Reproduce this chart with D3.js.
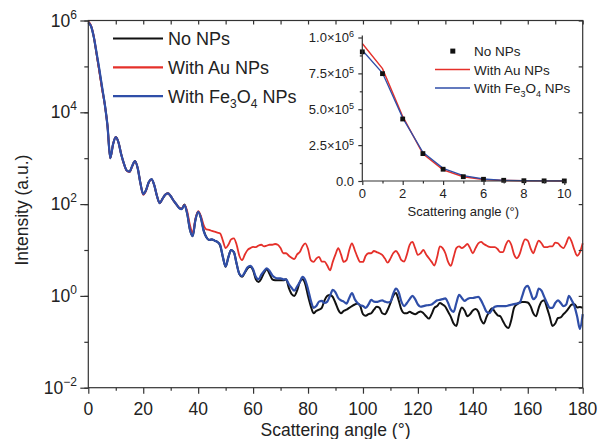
<!DOCTYPE html>
<html lang="en">
<head>
<meta charset="UTF-8">
<title>Scattering intensity</title>
<script src="https://d3js.org/d3.v7.min.js"></script>
<style>
    body { margin: 0; background: #fff; }
    svg { font-family: "Liberation Sans", Arial, sans-serif; }
    .axis path, .axis line { stroke: #333; stroke-width: 1.2; }
</style>
</head>
<body>
<div id="chart"></div>
<script>
// angles of the main curves, one reading per degree
const angles = d3.range(0, 181, 1);

const noNPs = [
    9.0e5, 7.5e5, 4.35e5, 1.9e5, 8.2e4, 3.4e4, 1.5e4, 5.0e3, 1.0e3, 2.0e3,
    2.9e3, 2.2e3, 1.2e3, 750, 540, 510, 680, 870, 600, 280,
    165, 200, 300, 350, 260, 150, 105, 130, 160, 172,
    150, 120, 100, 83, 78, 98, 62, 28, 20, 45,
    68, 50, 27, 19, 16.6, 17, 16, 15, 12.5, 7,
    4.3, 7, 10, 9, 5, 3.0, 2.6, 3.2, 4.0, 4.3,
    3.6, 2.3, 2.0, 2.4, 3.2, 3.8, 3.0, 2.3, 2.2, 2.2,
    2.2, 2.2, 2.3, 1.5, 1.1, 1.0, 1.3, 2.0, 2.3, 1.8,
    1.0, 0.6, 0.42, 0.47, 0.5, 0.55, 0.8, 1.0, 1.05, 0.95,
    0.7, 0.5, 0.42, 0.47, 0.5, 0.55, 0.6, 0.65, 0.68, 0.6,
    0.4, 0.37, 0.4, 0.42, 0.5, 0.58, 0.55, 0.42, 0.4, 0.5,
    0.7, 1.0, 1.15, 0.8, 0.5, 0.42, 0.42, 0.45, 0.42, 0.4,
    0.43, 0.46, 0.42, 0.36, 0.32, 0.4, 0.55, 0.6, 0.7, 0.65,
    0.58, 0.45, 0.35, 0.25, 0.22, 0.4, 0.56, 0.48, 0.36, 0.4,
    0.48, 0.52, 0.45, 0.3, 0.25, 0.35, 0.45, 0.54, 0.45, 0.38,
    0.36, 0.28, 0.22, 0.2, 0.3, 0.55, 0.65, 0.72, 0.74, 0.74,
    0.72, 0.6, 0.42, 0.36, 0.55, 0.75, 0.8, 0.55, 0.35, 0.22,
    0.25, 0.33, 0.34, 0.4, 0.46, 0.55, 0.65, 0.66, 0.56, 0.57,
    0.55
];

const auNPs = [
    9.6e5, 7.8e5, 4.5e5, 1.9e5, 7.8e4, 3.2e4, 1.45e4, 5.0e3, 1.0e3, 2.0e3,
    2.9e3, 2.2e3, 1.2e3, 740, 530, 500, 670, 860, 600, 280,
    160, 195, 295, 345, 260, 150, 105, 130, 160, 170,
    150, 120, 100, 84, 80, 96, 70, 35, 24, 48,
    70, 55, 35, 28, 27.5, 26, 25, 24, 23, 16,
    11, 13, 17, 18, 13, 7.5, 6.0, 8, 10, 11,
    11.7, 11.5, 12.5, 13, 12, 12.5, 13, 13, 13.5, 13,
    11, 8.5, 8.5, 7.5, 6.8, 6.3, 8, 9, 12, 14,
    10.5, 6, 5.5, 6.5, 7.1, 5.6, 5.6, 4.6, 3.6, 5.5,
    8, 11, 8, 5.5, 6, 10, 14, 10, 7, 5.5,
    5.5, 7.5, 8.5, 8.5, 9.5, 9, 8.5, 7.8, 6.5, 5.3,
    6.5, 8.5, 9.5, 8, 6, 5.6, 8, 13, 15, 11,
    7.8, 8.5, 10, 8, 6.6, 5.5, 4.6, 7, 12, 11,
    8.5, 5.5, 4.5, 7, 11, 12, 11, 12, 13.5, 11,
    8.5, 11, 14, 15, 13.5, 12.5, 11.7, 11.5, 11.5, 10.5,
    9, 9, 13, 16, 13, 8, 6.6, 8, 12.5, 17,
    16, 11, 8.5, 12, 16, 14, 11.5, 11.5, 12, 12,
    14.5, 14, 12, 11, 14, 19, 15, 10, 7.5, 9,
    14
];

const feNPs = [
    9.1e5, 7.5e5, 4.4e5, 2.0e5, 8.8e4, 3.6e4, 1.5e4, 5.0e3, 1.0e3, 2.0e3,
    2.9e3, 2.2e3, 1.2e3, 750, 540, 510, 680, 870, 600, 280,
    165, 200, 300, 350, 260, 150, 105, 130, 160, 172,
    150, 120, 100, 83, 78, 95, 62, 28, 20, 45,
    68, 50, 26, 19, 16.6, 17, 16, 15, 13, 7,
    4.4, 7, 10, 9, 5, 3.0, 2.7, 3.3, 4.2, 4.5,
    3.8, 2.6, 2.3, 2.9, 3.5, 4.0, 3.5, 2.8, 2.5, 2.4,
    2.4, 2.3, 2.3, 1.8, 1.5, 1.3, 1.6, 2.0, 2.6, 2.2,
    1.4, 0.8, 0.55, 0.6, 0.75, 0.78, 0.7, 0.75, 1.0, 1.35,
    1.2, 0.9, 0.8, 0.75, 0.68, 0.9, 1.15, 0.85, 0.7, 0.63,
    0.6, 0.55, 0.65, 0.82, 0.75, 0.74, 0.77, 0.8, 0.75, 0.72,
    0.75, 1.1, 1.45, 1.2, 0.75, 0.6, 0.7, 0.85, 1.0, 0.85,
    0.65, 0.58, 0.6, 0.62, 0.63, 0.65, 0.72, 0.8, 0.82, 0.85,
    0.88, 0.7, 0.5, 0.45, 0.7, 1.05, 0.9, 0.78, 0.85, 0.9,
    0.9, 0.93, 0.95, 0.8, 0.6, 0.45, 0.42, 0.5, 0.58, 0.6,
    0.6, 0.6, 0.6, 0.62, 0.64, 0.66, 0.68, 0.7, 1.0, 1.5,
    1.65, 1.2, 0.85, 0.95, 1.45, 1.3, 0.95, 0.7, 0.55, 0.55,
    0.7, 0.8, 0.7, 0.6, 0.65, 1.0, 0.8, 0.6, 0.35, 0.19,
    0.4
];

// inset, linear scale, 0-10 degrees
const insetAngles = [0, 1, 2, 3, 4, 5, 6, 7, 8, 9, 10];
const insetNo = [9.0e5, 7.48e5, 4.32e5, 1.91e5, 8.2e4, 3.0e4, 1.2e4, 5e3, 2e3, 1e3, 5e2];
const insetAu = [9.58e5, 7.83e5, 4.5e5, 1.9e5, 7.8e4, 3.0e4, 1.0e4, 4e3, 2e3, 1e3, 5e2];
const insetFe = [9.11e5, 7.52e5, 4.4e5, 2.0e5, 8.8e4, 3.8e4, 1.4e4, 5e3, 2e3, 1e3, 5e2];

const yDecades = [1e-2, 1e-1, 1e0, 1e1, 1e2, 1e3, 1e4, 1e5, 1e6];
const yLabelExp = [-2, 0, 2, 4, 6];
const xMajor = [0, 20, 40, 60, 80, 100, 120, 140, 160, 180];
const xMinor = [10, 30, 50, 70, 90, 110, 130, 150, 170];
const insetYTicks = [0, 2.5e5, 5e5, 7.5e5, 1e6];
const insetXTicks = [0, 2, 4, 6, 8, 10];

const RED = "#e5302a", BLUE = "#2f4ea8", BLACK = "#111";

const W = 599, H = 439;
const svg = d3.select("#chart").append("svg").attr("width", W).attr("height", H);

// ---- main plot ----
const x = d3.scaleLinear().domain([0, 180]).range([88.3, 582.7]);
const y = d3.scaleLog().domain([1e-2, 1e6]).range([387.7, 20.5]);

const line = vals => d3.line()
    .x((d, i) => x(angles[i]))
    .y(d => y(d))
    .curve(d3.curveMonotoneX)(vals);

svg.append("path").attr("d", line(noNPs)).attr("fill", "none").attr("stroke", BLACK).attr("stroke-width", 2);
svg.append("path").attr("d", line(auNPs)).attr("fill", "none").attr("stroke", RED).attr("stroke-width", 1.8);
svg.append("path").attr("d", line(feNPs)).attr("fill", "none").attr("stroke", BLUE).attr("stroke-width", 2.2);

// frame
svg.append("rect")
    .attr("x", x(0)).attr("y", y(1e6))
    .attr("width", x(180) - x(0)).attr("height", y(1e-2) - y(1e6))
    .attr("fill", "none").attr("stroke", "#333").attr("stroke-width", 1.2);

// bottom axis
svg.append("g").attr("class", "axis").attr("transform", `translate(0,${y(1e-2)})`)
    .call(d3.axisBottom(x).tickValues(xMajor).tickSize(6).tickSizeOuter(0).tickFormat(""))
    .call(g => g.select(".domain").remove());
svg.append("g").attr("class", "axis").attr("transform", `translate(0,${y(1e-2)})`)
    .call(d3.axisBottom(x).tickValues(xMinor).tickSize(3).tickFormat(""))
    .call(g => g.select(".domain").remove());
svg.append("g").selectAll("text").data(xMajor).join("text")
    .attr("x", d => x(d)).attr("y", 415)
    .attr("text-anchor", "middle").attr("font-size", 17.5).attr("fill", "#222")
    .text(d => d);

// top axis, inward
svg.append("g").attr("class", "axis").attr("transform", `translate(0,${y(1e6)})`)
    .call(d3.axisTop(x).tickValues(xMajor.concat(xMinor)).tickSize(-4).tickFormat(""))
    .call(g => g.select(".domain").remove());

// left axis
svg.append("g").attr("class", "axis").attr("transform", `translate(${x(0)},0)`)
    .call(d3.axisLeft(y).tickValues(yDecades).tickSize(4).tickFormat(""))
    .call(g => g.select(".domain").remove());
svg.append("g").attr("class", "axis").attr("transform", `translate(${x(0)},0)`)
    .call(d3.axisLeft(y).tickValues(yLabelExp.map(e => Math.pow(10, e))).tickSize(8).tickFormat(""))
    .call(g => g.select(".domain").remove());
const yl = svg.append("g").selectAll("text").data(yLabelExp).join("text")
    .attr("x", 77).attr("y", d => y(Math.pow(10, d)) + 6)
    .attr("text-anchor", "end").attr("font-size", 17.5).attr("fill", "#222");
yl.append("tspan").text("10");
yl.append("tspan").attr("font-size", 12).attr("dy", -8).text(d => d < 0 ? "\u2212" + (-d) : d);

// right axis, inward
svg.append("g").attr("class", "axis").attr("transform", `translate(${x(180)},0)`)
    .call(d3.axisRight(y).tickValues(yDecades).tickSize(-4).tickFormat(""))
    .call(g => g.select(".domain").remove());

// titles
svg.append("text").attr("x", (x(0) + x(180)) / 2).attr("y", 436)
    .attr("text-anchor", "middle").attr("font-size", 17.5).attr("fill", "#222")
    .text("Scattering angle (\u00b0)");
svg.append("text").attr("transform", `translate(28,${(y(1e6) + y(1e-2)) / 2 + 6}) rotate(-90)`)
    .attr("text-anchor", "middle").attr("font-size", 17.5).attr("fill", "#222")
    .text("Intensity (a.u.)");

// main legend
const legendItems = [
    {name: "No NPs", color: BLACK},
    {name: "With Au NPs", color: RED},
    {name: "With Fe3O4 NPs", color: BLUE}
];
const lg = svg.append("g").selectAll("g").data(legendItems).join("g")
    .attr("transform", (d, i) => `translate(113,${38.5 + i * 28.8})`);
lg.append("line").attr("x1", 0).attr("x2", 50).attr("stroke", d => d.color).attr("stroke-width", 2.2);
lg.each(function(d) {
    const t = d3.select(this).append("text").attr("x", 55).attr("y", 6.5)
        .attr("font-size", 18).attr("fill", "#222");
    if (d.name === "With Fe3O4 NPs") {
        t.append("tspan").text("With Fe");
        t.append("tspan").attr("font-size", 12).attr("dy", 5).text("3");
        t.append("tspan").attr("dy", -5).text("O");
        t.append("tspan").attr("font-size", 12).attr("dy", 5).text("4");
        t.append("tspan").attr("dy", -5).text(" NPs");
    } else {
        t.text(d.name);
    }
});

// ---- inset ----
const ix = d3.scaleLinear().domain([0, 10]).range([362.3, 564.3]);
const iy = d3.scaleLinear().domain([0, 1e6]).range([181, 37.5]);

const iline = vals => d3.line().x((d, i) => ix(insetAngles[i])).y(d => iy(d))(vals);

svg.append("path").attr("d", iline(insetAu)).attr("fill", "none").attr("stroke", RED).attr("stroke-width", 1.4);
svg.append("path").attr("d", iline(insetFe)).attr("fill", "none").attr("stroke", BLUE).attr("stroke-width", 1.3);
svg.append("g").selectAll("rect").data(insetNo).join("rect")
    .attr("x", (d, i) => ix(insetAngles[i]) - 2.4).attr("y", d => iy(d) - 2.4)
    .attr("width", 4.8).attr("height", 4.8).attr("fill", BLACK);

svg.append("g").attr("class", "axis").attr("transform", `translate(${ix(0)},0)`)
    .call(d3.axisLeft(iy).tickValues(insetYTicks).tickSize(4).tickSizeOuter(0).tickFormat(""))
    .call(g => g.select(".domain").attr("d", `M0,${iy(0)}V${iy(1e6) - 2}`));
svg.append("g").attr("class", "axis").attr("transform", `translate(${ix(0)},0)`)
    .call(d3.axisLeft(iy).tickValues([1.25e5, 3.75e5, 6.25e5, 8.75e5]).tickSize(2.5).tickFormat(""))
    .call(g => g.select(".domain").remove());
svg.append("g").attr("class", "axis").attr("transform", `translate(0,${iy(0)})`)
    .call(d3.axisBottom(ix).tickValues(insetXTicks).tickSize(4).tickSizeOuter(0).tickFormat(""))
    .call(g => g.select(".domain").attr("d", `M${ix(0)},0H${ix(10)}`));
svg.append("g").attr("class", "axis").attr("transform", `translate(0,${iy(0)})`)
    .call(d3.axisBottom(ix).tickValues([1, 3, 5, 7, 9]).tickSize(2.5).tickFormat(""))
    .call(g => g.select(".domain").remove());

svg.append("g").selectAll("text").data(insetXTicks).join("text")
    .attr("x", d => ix(d)).attr("y", 198)
    .attr("text-anchor", "middle").attr("font-size", 13).attr("fill", "#222")
    .text(d => d);

const iyl = svg.append("g").selectAll("text").data(insetYTicks).join("text")
    .attr("x", 354).attr("y", d => iy(d) + 4.5)
    .attr("text-anchor", "end").attr("font-size", 13).attr("fill", "#222");
iyl.each(function(d) {
    const t = d3.select(this);
    if (d === 0) { t.text("0.0"); return; }
    const e = Math.floor(Math.log10(d));
    t.append("tspan").text((d / Math.pow(10, e)).toFixed(1) + "\u00d710");
    t.append("tspan").attr("font-size", 9).attr("dy", -5).text(e);
});

svg.append("text").attr("x", (ix(0) + ix(10)) / 2).attr("y", 216)
    .attr("text-anchor", "middle").attr("font-size", 13).attr("fill", "#222")
    .text("Scattering angle (\u00b0)");

// inset legend
const ilg = svg.append("g").attr("font-size", 13.5).attr("fill", "#222");
ilg.append("rect").attr("x", 450.3).attr("y", 48.6).attr("width", 5).attr("height", 5).attr("fill", BLACK);
ilg.append("text").attr("x", 474).attr("y", 56).text("No NPs");
ilg.append("line").attr("x1", 435).attr("x2", 470).attr("y1", 69.5).attr("y2", 69.5).attr("stroke", RED).attr("stroke-width", 1.4);
ilg.append("text").attr("x", 474).attr("y", 74.5).text("With Au NPs");
ilg.append("line").attr("x1", 435).attr("x2", 470).attr("y1", 88).attr("y2", 88).attr("stroke", BLUE).attr("stroke-width", 1.3);
const fe = ilg.append("text").attr("x", 474).attr("y", 93);
fe.append("tspan").text("With Fe");
fe.append("tspan").attr("font-size", 9).attr("dy", 3.5).text("3");
fe.append("tspan").attr("dy", -3.5).text("O");
fe.append("tspan").attr("font-size", 9).attr("dy", 3.5).text("4");
fe.append("tspan").attr("dy", -3.5).text(" NPs");
</script>
</body>
</html>
